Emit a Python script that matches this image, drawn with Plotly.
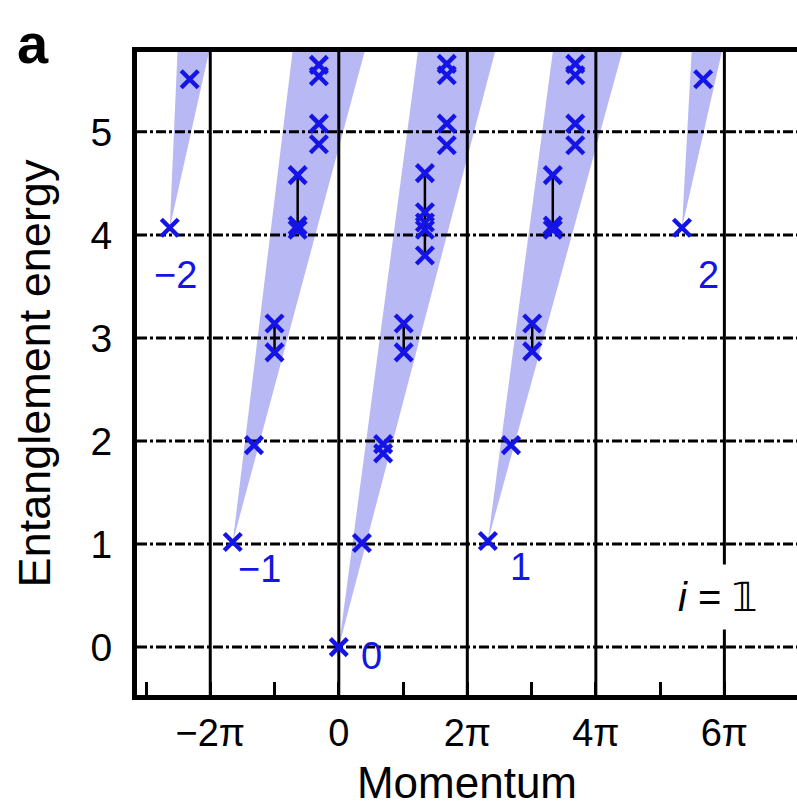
import plotly.graph_objects as go

# ---------------- data (momentum in units of pi) ----------------
pts_x = [-2.63, -2.32,
         -1.65, -1.32, -1.00, -1.00, -0.64, -0.64, -0.64, -0.31, -0.31, -0.31, -0.31,
         0.00, 0.36, 0.69, 0.69, 1.01, 1.01, 1.34, 1.34, 1.34, 1.34, 1.34, 1.68, 1.68, 1.68, 1.68,
         2.32, 2.68, 3.01, 3.01, 3.33, 3.33, 3.33, 3.68, 3.68, 3.68, 3.68,
         5.34, 5.67]
pts_y = [4.07, 5.51,
         1.02, 1.96, 3.14, 2.86, 4.58, 4.09, 4.05, 5.65, 5.54, 5.08, 4.88,
         0.00, 1.01, 1.97, 1.88, 3.14, 2.86, 4.60, 4.22, 4.12, 4.05, 3.80, 5.66, 5.55, 5.08, 4.87,
         1.03, 1.96, 3.14, 2.87, 4.58, 4.09, 4.05, 5.66, 5.55, 5.08, 4.87,
         4.07, 5.51]

# vertical connectors between split levels
conn_x = [-1.00, -0.64, 1.01, 1.34, 3.01, 3.33]
conn_lo = [2.86, 4.05, 2.86, 3.80, 2.87, 4.05]
conn_hi = [3.14, 4.58, 3.14, 4.60, 3.14, 4.58]

# shaded wedges: apex and left/right x at the top of the panel
wedge_apex_x = [-2.63, -1.65, 0.00, 2.32, 5.34]
wedge_apex_y = [4.07, 1.02, 0.00, 1.03, 4.07]
wedge_top_left = [-2.51, -0.72, 1.23, 3.33, 5.49]
wedge_top_right = [-2.02, 0.40, 2.43, 4.41, 5.96]

# sector labels
sector_text = ["\u22122", "\u22121", "0", "1", "2"]
sector_x = [-2.54, -1.23, 0.51, 2.82, 5.75]
sector_y = [3.61, 0.76, -0.09, 0.78, 3.61]

x_tickvals = [-3, -2, -1, 0, 1, 2, 3, 4, 5, 6]
x_ticktext = ["", "\u22122\u03c0", "", "0", "", "2\u03c0", "", "4\u03c0", "", "6\u03c0"]
y_tickvals = [0, 1, 2, 3, 4, 5]
branch_cuts = [-2, 0, 2, 4, 6]

X_MIN, X_MAX = -3.14, 7.13
Y_MIN, Y_MAX = -0.465, 5.775

BLUE = "#1414e6"
SHADE = "#b8b8f5"
FONT = "Liberation Sans, Arial, Helvetica, sans-serif"

fig = go.Figure()

# wedges
for ax, ay, tl, tr in zip(wedge_apex_x, wedge_apex_y, wedge_top_left, wedge_top_right):
    fig.add_trace(go.Scatter(x=[ax, tl, tr, ax], y=[ay, Y_MAX, Y_MAX, ay],
                             mode="lines", fill="toself", fillcolor=SHADE,
                             line=dict(width=0, color=SHADE), hoverinfo="skip",
                             showlegend=False))

# dash-dot horizontal lines at integer energies
for yv in y_tickvals:
    fig.add_trace(go.Scatter(x=[X_MIN, X_MAX], y=[yv, yv], mode="lines",
                             line=dict(color="black", width=3, dash="10px,3px,3px,3px"),
                             hoverinfo="skip", showlegend=False))

# solid vertical lines at even multiples of pi
for xv in branch_cuts:
    fig.add_trace(go.Scatter(x=[xv, xv], y=[Y_MIN, Y_MAX], mode="lines",
                             line=dict(color="black", width=3),
                             hoverinfo="skip", showlegend=False))

# connectors
for cx, lo, hi in zip(conn_x, conn_lo, conn_hi):
    fig.add_trace(go.Scatter(x=[cx, cx], y=[lo, hi], mode="lines",
                             line=dict(color="black", width=2.5),
                             hoverinfo="skip", showlegend=False))

# markers
fig.add_trace(go.Scatter(x=pts_x, y=pts_y, mode="markers",
                         marker=dict(symbol="x-thin", size=17,
                                     line=dict(color=BLUE, width=4.4), color=BLUE),
                         showlegend=False))

# sector labels
for t, sx, sy in zip(sector_text, sector_x, sector_y):
    fig.add_annotation(x=sx, y=sy, text=t, showarrow=False,
                       font=dict(family=FONT, size=38, color=BLUE))

fig.add_annotation(x=5.89, y=0.49, text="<i>i</i> = \U0001D7D9", showarrow=False,
                   font=dict(family=FONT, size=40, color="black"),
                   bgcolor="white", borderpad=10)

fig.add_annotation(x=-0.185, y=1.065, xref="paper", yref="paper",
                   text="<b>a</b>", showarrow=False, xanchor="left", yanchor="top",
                   font=dict(family=FONT, size=56, color="black"))

fig.update_layout(
    width=797, height=807,
    margin=dict(l=137, r=0, t=52, b=112),
    plot_bgcolor="white", paper_bgcolor="white",
    font=dict(family=FONT, color="black"),
    showlegend=False,
)
fig.update_xaxes(range=[X_MIN, X_MAX], tickvals=x_tickvals, ticktext=x_ticktext,
                 ticks="inside", ticklen=13, tickwidth=3, tickcolor="black",
                 showline=True, linewidth=5, linecolor="black", mirror=True,
                 showgrid=False, zeroline=False,
                 tickfont=dict(size=38, family=FONT),
                 title=dict(text="Momentum", font=dict(size=44, family=FONT), standoff=24))
fig.update_yaxes(range=[Y_MIN, Y_MAX], tickvals=y_tickvals,
                 ticks="", showline=True, linewidth=5, linecolor="black", mirror=False,
                 showgrid=False, zeroline=False,
                 tickfont=dict(size=39, family=FONT), ticklabelstandoff=12,
                 title=dict(text="Entanglement energy", font=dict(size=45, family=FONT), standoff=27))

fig.write_html("out.html")
